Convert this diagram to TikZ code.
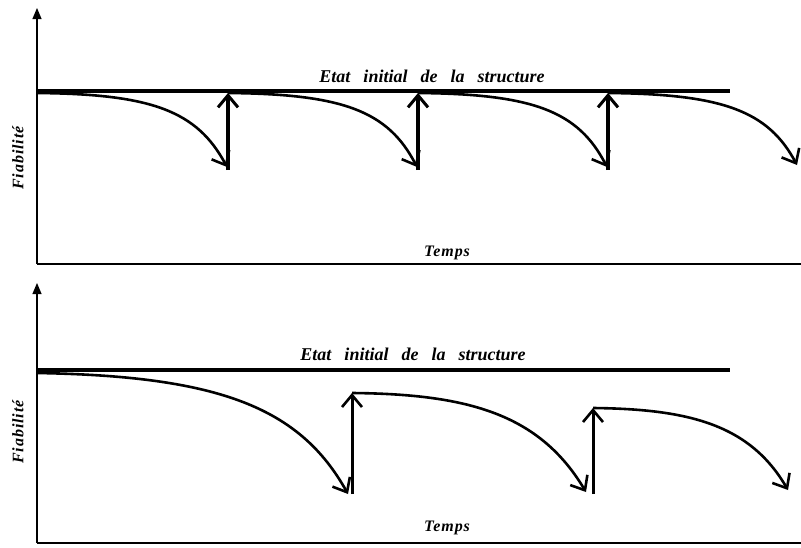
\documentclass[tikz,border=0pt]{standalone}
\usepackage{fontspec}
\setmainfont{Liberation Serif}
\usetikzlibrary{arrows.meta,calc}
\tikzset{
  axis/.style={line width=1.2pt},
  axisarrow/.style={line width=1.2pt,-{Triangle[length=11pt,width=9pt]}},
  base/.style={line width=4.5pt},
  decay/.style={line width=2.6pt,-{Straight Barb[length=12pt,width=20pt,line width=2.6pt]}},
  repairthick/.style={line width=4.5pt,-{Straight Barb[length=12pt,width=20pt,line width=3pt]}},
  repairthin/.style={line width=3pt,-{Straight Barb[length=12pt,width=20pt,line width=2.6pt]}},
  lbl/.style={font=\fontsize{18}{20}\selectfont\bfseries\itshape,inner sep=0pt},
  axlbl/.style={font=\fontsize{16}{18}\selectfont\bfseries\itshape\addfontfeature{LetterSpace=6},inner sep=0pt}
}
\begin{document}
\begin{tikzpicture}[x=1pt,y=-1pt]
\useasboundingbox (0,0) rectangle (801,547);
% ---------- top panel ----------
\coordinate (o1) at (37,264);
\coordinate (y1) at (37,8);
\coordinate (x1) at (801,264);
\draw[axis] (o1) -- (x1);
\draw[axisarrow] (o1) -- (y1);
\coordinate (b1s) at (37,91);
\coordinate (b1e) at (730,91);
\draw[base] (b1s) -- (b1e);
\node[lbl] (t1) at (432,76) {Etat\hspace{13pt}initial\hspace{13pt}de\hspace{13pt}la\hspace{13pt}structure};
\node[axlbl,rotate=90] (f1) at (18,158) {Fiabilité};
\node[axlbl] (m1) at (447,253) {Temps};
\foreach \i/\x in {a/37,b/228,c/418,d/608}{
  \coordinate (s\i) at (\x,93);
}
\coordinate (ea) at (227,167);
\coordinate (eb) at (417,167);
\coordinate (ec) at (607,167);
\coordinate (ed) at (797,165);
\coordinate (ua) at (228,170);
\coordinate (ub) at (418,170);
\coordinate (uc) at (608,170);
\draw[decay] (sa) .. controls ($(sa)+(115,1)$) and ($(sa)+(160,18)$) .. (ea);
\draw[decay] (sb) .. controls ($(sb)+(115,1)$) and ($(sb)+(160,18)$) .. (eb);
\draw[decay] (sc) .. controls ($(sc)+(115,1)$) and ($(sc)+(160,18)$) .. (ec);
\draw[decay] (sd) .. controls ($(sd)+(115,1)$) and ($(sd)+(160,18)$) .. (ed);
\draw[repairthick] (ua) -- (sb);
\draw[repairthick] (ub) -- (sc);
\draw[repairthick] (uc) -- (sd);
% ---------- bottom panel ----------
\coordinate (o2) at (37,543);
\coordinate (y2) at (37,283);
\coordinate (x2) at (801,543);
\draw[axis] (o2) -- (x2);
\draw[axisarrow] (o2) -- (y2);
\coordinate (b2s) at (37,370);
\coordinate (b2e) at (730,370);
\draw[base] (b2s) -- (b2e);
\node[lbl] (t2) at (413,354) {Etat\hspace{13pt}initial\hspace{13pt}de\hspace{13pt}la\hspace{13pt}structure};
\node[axlbl,rotate=90] (f2) at (18,432) {Fiabilité};
\node[axlbl] (m2) at (447,528) {Temps};
\coordinate (p1) at (37,373);
\coordinate (q1) at (348,494);
\coordinate (r1) at (352,494);
\coordinate (p2) at (352,393);
\coordinate (q2) at (586,492);
\coordinate (r2) at (593,494);
\coordinate (p3) at (593,408);
\coordinate (q3) at (788,490);
\draw[decay] (p1) .. controls (220,376) and (300,408) .. (q1);
\draw[decay] (p2) .. controls (470,394) and (540,415) .. (q2);
\draw[decay] (p3) .. controls (690,409) and (750,425) .. (q3);
\draw[repairthin] (r1) -- (p2);
\draw[repairthin] (r2) -- (p3);
\end{tikzpicture}
\end{document}
